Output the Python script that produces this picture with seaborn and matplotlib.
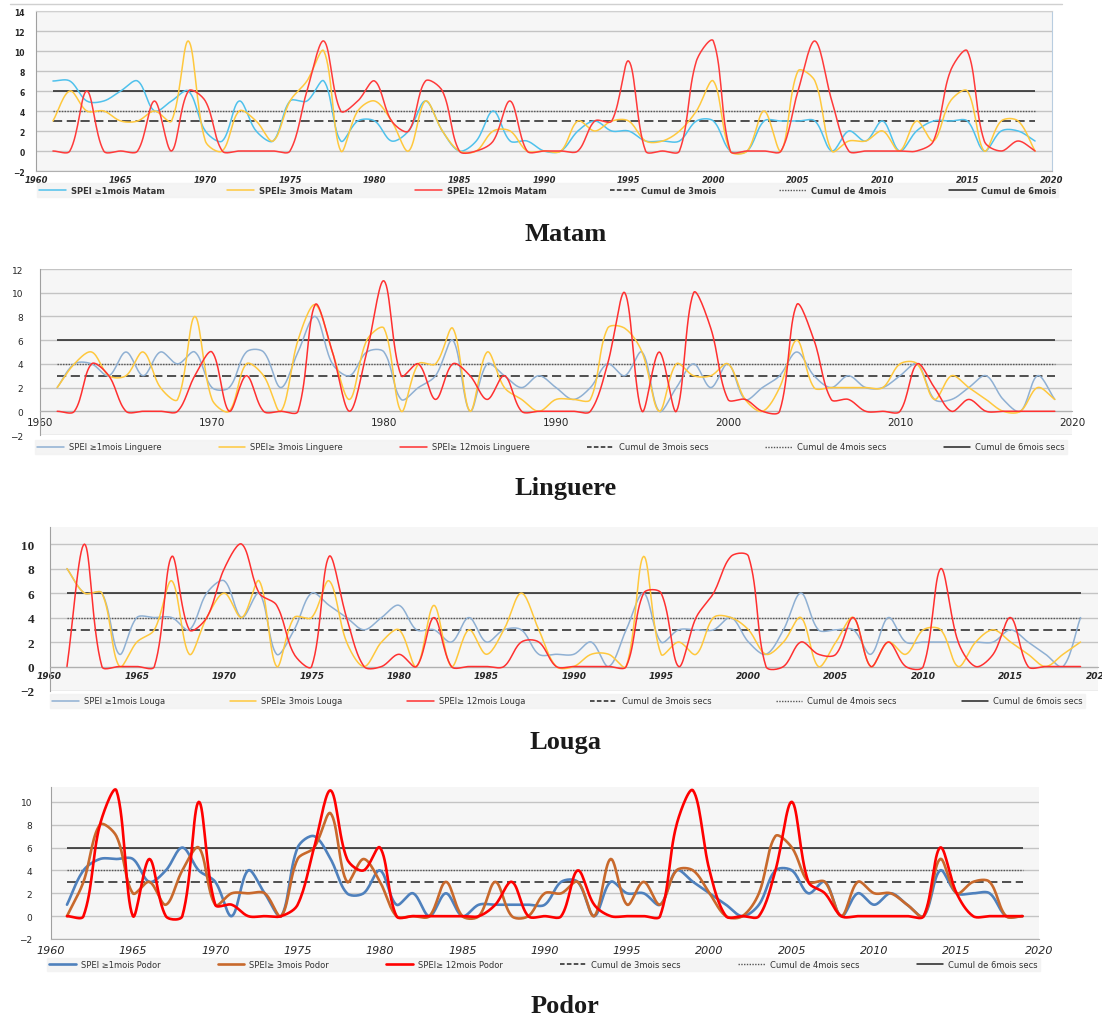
import numpy as np
import matplotlib
matplotlib.use("Agg")
import matplotlib.pyplot as plt
import seaborn as sns
from matplotlib.lines import Line2D

# yearly values 1961..2019
years = list(range(1961, 2020))
thresholds = [3, 4, 6]   # Cumul de 3 / 4 / 6 mois (secs)

matam_1 = [7, 7, 5, 5, 6, 7, 4, 5, 6, 2,
           1, 5, 2, 1, 5, 5, 7, 1, 3, 3,
           1, 2, 5, 2, 0, 1, 4, 1, 1, 0,
           0, 2, 3, 2, 2, 1, 1, 1, 3, 3,
           0, 0, 3, 3, 3, 3, 0, 2, 1, 3,
           0, 2, 3, 3, 3, 0, 2, 2, 1]
matam_3 = [3, 6, 4, 4, 3, 3, 4, 3, 11, 1,
           0, 4, 3, 1, 5, 7, 10, 0, 4, 5,
           3, 0, 5, 2, 0, 0, 2, 2, 0, 0,
           0, 3, 2, 3, 3, 1, 1, 2, 4, 7,
           0, 0, 4, 0, 8, 7, 0, 1, 1, 2,
           0, 3, 1, 5, 6, 0, 3, 3, 0]
matam_12 = [0, 0, 6, 0, 0, 0, 5, 0, 6, 5,
            0, 0, 0, 0, 0, 6, 11, 4, 5, 7,
            3, 2, 7, 6, 0, 0, 1, 5, 0, 0,
            0, 0, 3, 3, 9, 0, 0, 0, 9, 11,
            0, 0, 0, 0, 6, 11, 5, 0, 0, 0,
            0, 0, 1, 8, 10, 1, 0, 1, 0]

linguere_1 = [2, 4, 4, 3, 5, 3, 5, 4, 5, 2,
              2, 5, 5, 2, 5, 8, 4, 3, 5, 5,
              1, 2, 3, 6, 0, 4, 3, 2, 3, 2,
              1, 2, 4, 3, 5, 0, 2, 4, 2, 4,
              1, 2, 3, 5, 3, 2, 3, 2, 2, 3,
              4, 1, 1, 2, 3, 1, 0, 3, 1]
linguere_3 = [2, 4, 5, 3, 3, 5, 2, 1, 8, 1,
              0, 4, 3, 0, 6, 9, 5, 1, 6, 7,
              0, 4, 4, 7, 0, 5, 2, 1, 0, 1,
              1, 1, 7, 7, 5, 0, 4, 3, 3, 4,
              1, 0, 2, 6, 2, 2, 2, 2, 2, 4,
              4, 1, 3, 2, 1, 0, 0, 2, 1]
linguere_12 = [0, 0, 4, 3, 0, 0, 0, 0, 3, 5,
               0, 3, 0, 0, 0, 9, 5, 0, 5, 11,
               3, 4, 1, 4, 3, 1, 3, 0, 0, 0,
               0, 0, 4, 10, 0, 5, 0, 10, 7, 1,
               1, 0, 0, 9, 6, 1, 1, 0, 0, 0,
               4, 2, 0, 1, 0, 0, 0, 0, 0]

louga_1 = [8, 6, 6, 1, 4, 4, 4, 3, 6, 7,
           4, 6, 1, 3, 6, 5, 4, 3, 4, 5,
           3, 3, 2, 4, 2, 3, 3, 1, 1, 1,
           2, 0, 3, 6, 2, 3, 3, 3, 4, 2,
           1, 3, 6, 3, 3, 3, 1, 4, 2, 2,
           2, 2, 2, 2, 3, 2, 1, 0, 4]
louga_3 = [8, 6, 6, 0, 2, 3, 7, 1, 4, 6,
           4, 7, 0, 4, 4, 7, 2, 0, 2, 3,
           0, 5, 0, 3, 1, 3, 6, 3, 0, 0,
           1, 1, 0, 9, 1, 2, 1, 4, 4, 3,
           1, 2, 4, 0, 2, 4, 0, 2, 1, 3,
           3, 0, 2, 3, 2, 1, 0, 1, 2]
louga_12 = [0, 10, 0, 0, 0, 0, 9, 3, 4, 8,
            10, 6, 5, 1, 0, 9, 4, 0, 0, 1,
            0, 4, 0, 0, 0, 0, 2, 2, 0, 0,
            0, 0, 0, 6, 6, 0, 4, 6, 9, 9,
            0, 0, 2, 1, 1, 4, 0, 2, 0, 0,
            8, 2, 0, 1, 4, 0, 0, 0, 0]

podor_1 = [1, 4, 5, 5, 5, 3, 4, 6, 4, 3,
           0, 4, 2, 0, 6, 7, 5, 2, 2, 4,
           1, 2, 0, 2, 0, 1, 1, 1, 1, 1,
           3, 3, 0, 3, 2, 2, 1, 4, 3, 2,
           1, 0, 1, 4, 4, 2, 3, 0, 2, 1,
           2, 1, 0, 4, 2, 2, 2, 0, 0]
podor_3 = [0, 3, 8, 7, 2, 3, 1, 4, 6, 1,
           2, 2, 2, 0, 5, 6, 9, 3, 5, 3,
           0, 0, 0, 3, 0, 0, 3, 0, 0, 2,
           2, 3, 0, 5, 1, 3, 1, 4, 4, 2,
           0, 0, 2, 7, 6, 3, 3, 0, 3, 2,
           2, 1, 0, 5, 2, 3, 3, 0, 0]
podor_12 = [0, 0, 8, 11, 0, 5, 0, 0, 10, 1,
            1, 0, 0, 0, 1, 6, 11, 5, 4, 6,
            0, 0, 0, 0, 0, 0, 1, 3, 0, 0,
            0, 4, 1, 0, 0, 0, 0, 8, 11, 4,
            0, 0, 0, 4, 10, 3, 2, 0, 0, 0,
            0, 0, 0, 6, 2, 0, 0, 0, 0]

W, H = 1102, 1020


def rect(l, t, r, b):
    # pixel box -> figure fraction
    return [l / W, 1 - b / H, (r - l) / W, (b - t) / H]


def smooth(x, y, sx=1.0, sy=1.0, n=16):
    """Excel-like smoothed line: bezier segments, handles scaled by
    neighbouring segment lengths (measured in screen units sx, sy)."""
    x = np.asarray(x, float)
    y = np.asarray(y, float)
    px = np.concatenate([[x[0]], x, [x[-1]]])
    py = np.concatenate([[y[0]], y, [y[-1]]])
    d = np.hypot(np.diff(px) * sx, np.diff(py) * sy)
    t = np.linspace(0, 1, n, endpoint=False)
    xs, ys = [], []
    for i in range(1, len(px) - 2):
        d01, d12, d23 = d[i - 1], d[i], d[i + 1]
        f1 = d12 / (d01 + d12) / 3 if d01 + d12 > 0 else 0
        f2 = d12 / (d12 + d23) / 3 if d12 + d23 > 0 else 0
        for arr, out in ((px, xs), (py, ys)):
            p0, p1, p2, p3 = arr[i - 1], arr[i], arr[i + 1], arr[i + 2]
            c1 = p1 + (p2 - p0) * f1
            c2 = p2 - (p3 - p1) * f2
            out.extend((1 - t) ** 3 * p1 + 3 * (1 - t) ** 2 * t * c1
                       + 3 * (1 - t) * t ** 2 * c2 + t ** 3 * p2)
    xs.append(x[-1])
    ys.append(y[-1])
    return np.array(xs), np.array(ys)


sns.set_style("white")
plt.rcParams['font.family'] = ['DejaVu Sans']

fig = plt.figure(figsize=(W / 100, H / 100), dpi=100)

panels = [
    dict(name="Matam", series=[matam_1, matam_3, matam_12],
         colors=["#4fc1ec", "#ffc83d", "#ff3a3a"], lw=1.1,
         box=(36, 12, 1052, 172), ylim=(-2, 14), yticks=range(-2, 15, 2),
         xticks=range(1960, 2021, 5), xaxis_at=-2, ypad=8, xpad=3,
         leg=(37, 183, 1058, 199), suffix="", title_y=235,
         ytick_font=dict(size=5.5, weight="bold"),
         xtick_font=dict(size=6, weight="bold", style="italic")),
    dict(name="Linguere", series=[linguere_1, linguere_3, linguere_12],
         colors=["#8fb0d3", "#ffc83d", "#ff3030"], lw=1.1,
         box=(40, 270, 1072, 436), ylim=(-2, 12), yticks=range(-2, 13, 2),
         xticks=range(1960, 2021, 10), xaxis_at=0, ypad=12, xpad=4,
         leg=(35, 440, 1067, 456), suffix=" secs", title_y=488,
         ytick_font=dict(size=6.5), xtick_font=dict(size=7.5)),
    dict(name="Louga", series=[louga_1, louga_3, louga_12],
         colors=["#8fb0d3", "#ffc83d", "#ff3030"], lw=1.1,
         box=(49.5, 528, 1098, 692), ylim=(-2, 11.4), yticks=range(-2, 11, 2),
         xticks=range(1960, 2021, 5), xaxis_at=0, ypad=11, xpad=3,
         leg=(50, 694, 1085, 710), suffix=" secs", title_y=743,
         ytick_font=dict(size=9.5, weight="bold", family="Liberation Serif"),
         xtick_font=dict(size=6.5, weight="bold", style="italic")),
    dict(name="Podor", series=[podor_1, podor_3, podor_12],
         colors=["#4f81bd", "#c8692c", "#ff0000"], lw=1.9,
         box=(50.5, 788, 1039, 940), ylim=(-2, 11.3), yticks=range(-2, 11, 2),
         xticks=range(1960, 2021, 5), xaxis_at=-2, ypad=13, xpad=4,
         leg=(47, 958, 1040, 973), suffix=" secs", title_y=1007,
         ytick_font=dict(size=6.5), xtick_font=dict(size=8, style="italic")),
]

for p in panels:
    ax = fig.add_axes(rect(*p["box"]))
    ax.set_facecolor("#f6f6f6")
    l, t, r, b = p["box"]
    px_year = (r - l) / 60.0
    px_unit = (b - t) / (p["ylim"][1] - p["ylim"][0])
    for vals, col in zip(p["series"], p["colors"]):
        sx, sy = smooth(years, vals, px_year, px_unit)
        sns.lineplot(x=sx, y=sy, ax=ax, color=col, lw=p["lw"],
                     sort=False, estimator=None, zorder=3)
    # drought thresholds
    ax.hlines(thresholds[0], years[0], years[-1], colors="#222222",
              linestyles=(0, (6, 3)), lw=1.1, zorder=2)
    ax.hlines(thresholds[1], years[0], years[-1], colors="#555555",
              linestyles=(0, (1, 1)), lw=1.0, zorder=2)
    ax.hlines(thresholds[2], years[0], years[-1], colors="#222222",
              linestyles="-", lw=1.1, zorder=2)

    ax.set_xlim(1960, 2020)
    ax.set_ylim(*p["ylim"])
    for s in ["top", "right"]:
        ax.spines[s].set_visible(False)
    ax.spines["left"].set_color("#a0a0a0")
    ax.spines["bottom"].set_color("#b0b0b0")
    if p["xaxis_at"] == 0:
        ax.spines["bottom"].set_position(("data", 0))
    if p["name"] == "Matam":
        ax.spines["right"].set_visible(True)
        ax.spines["right"].set_color("#b8cde0")
        ax.spines["top"].set_visible(True)
        ax.spines["top"].set_color("#d0d0d0")

    ax.set_yticks(list(p["yticks"]))
    ax.set_xticks(list(p["xticks"]))
    ax.yaxis.grid(True, color="#c4c4c4", lw=1.0, zorder=0)
    ax.xaxis.grid(False)
    ax.tick_params(length=0)
    ax.tick_params(axis="y", labelsize=p["ytick_font"]["size"], pad=p["ypad"])
    ax.tick_params(axis="x", labelsize=p["xtick_font"]["size"], pad=p["xpad"])
    for lab in ax.get_yticklabels():
        lab.set(**p["ytick_font"])
    for lab in ax.get_xticklabels():
        lab.set(**p["xtick_font"])
    ax.set_xlabel("")
    ax.set_ylabel("")

    # legend strip under the chart
    labels = [f"SPEI \u22651mois {p['name']}", f"SPEI\u2265 3mois {p['name']}",
              f"SPEI\u2265 12mois {p['name']}"] + \
             [f"Cumul de {m}mois{p['suffix']}" for m in thresholds]
    handles = [Line2D([], [], color=c, lw=p["lw"]) for c in p["colors"]] + [
        Line2D([], [], color="#222222", lw=1.1, ls=(0, (3, 1.5))),
        Line2D([], [], color="#555555", lw=1.0, ls=(0, (1, 1))),
        Line2D([], [], color="#222222", lw=1.1, ls="-")]
    fr = rect(*p["leg"])
    leg = fig.legend(handles, labels, loc="center", ncol=6, mode="expand",
                     bbox_to_anchor=(fr[0], fr[1], fr[2], fr[3]),
                     fontsize=6, frameon=True, facecolor="#f2f2f2",
                     edgecolor="#f2f2f2", fancybox=False, handlelength=3.2,
                     handletextpad=0.6, borderpad=0.25, borderaxespad=0)
    for txt in leg.get_texts():
        txt.set_color("#333333")
        if p["name"] == "Matam":
            txt.set_fontweight("bold")

    fig.text(0.513, 1 - p["title_y"] / H, p["name"], ha="center", va="center",
             fontsize=19, fontweight="bold", family="Liberation Serif",
             color="#1a1a1a")

# thin frame line above the first chart
fig.add_artist(Line2D([10 / W, 1062 / W], [1 - 5 / H, 1 - 5 / H],
                      color="#d0d0d0", lw=1))

fig.savefig("out.png", dpi=100)
